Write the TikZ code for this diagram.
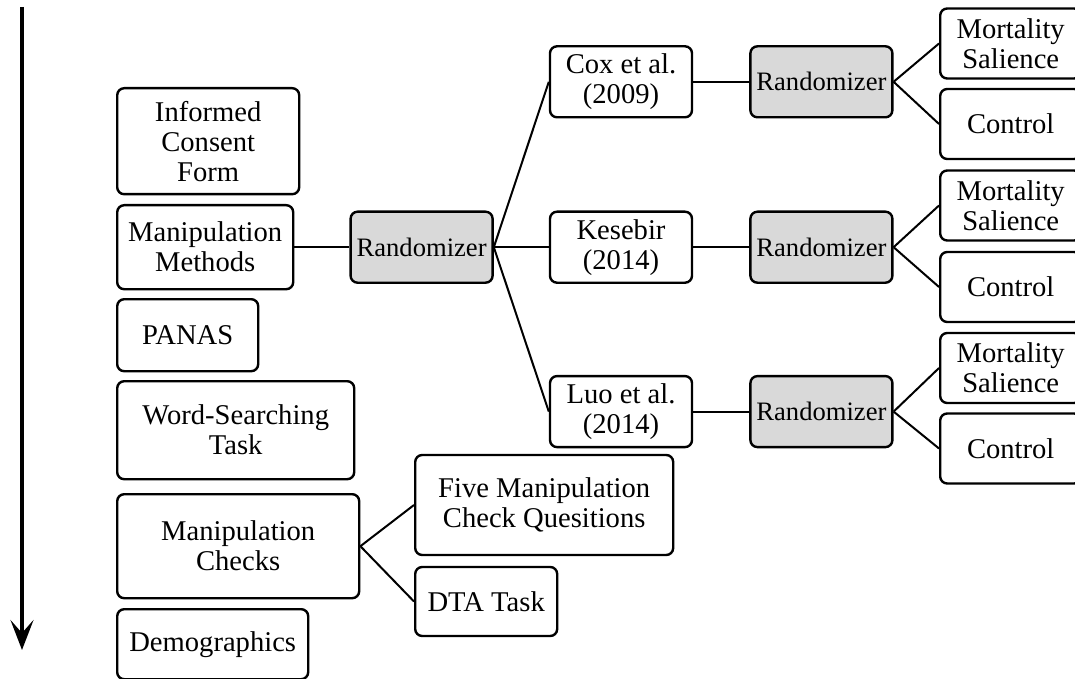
\documentclass[tikz,border=0pt]{standalone}
\usepackage{fontspec}
\setmainfont{Liberation Serif}
\usetikzlibrary{positioning, arrows.meta}
\definecolor{randgray}{RGB}{217, 217, 217}

\begin{document}
\begin{tikzpicture}[
    x=0.5pt, y=-0.5pt,
    stepbox/.style={
        rectangle,
        rounded corners=3.5pt,
        draw=black,
        line width=1.2pt,
        fill=white,
        align=center,
        inner sep=0.5pt,
        font=\fontsize{14.3}{15}\selectfont
    },
    leftbox/.style={stepbox, anchor=north west},
    studybox/.style={stepbox, minimum width=71pt, minimum height=35.5pt},
    randbox/.style={studybox, fill=randgray, font=\fontsize{13.3}{15}\selectfont},
    condbox/.style={stepbox, anchor=west, minimum width=70.5pt, minimum height=35pt},
    link/.style={draw=black, line width=1pt},
    timearrow/.style={draw=black, line width=1.6pt, -{Stealth[length=15pt, width=11.5pt, inset=6.5pt]}}
]
    \useasboundingbox (0,0) rectangle (1075,679);

    % --- Time arrow ---
    \coordinate (tstart) at (22,7);
    \coordinate (tend) at (22,650);
    \draw[timearrow] (tstart) -- (tend);

    % --- Left column: procedure ---
    \node[leftbox, minimum width=91pt, minimum height=53pt] (consent) at (116,87) {Informed\\Consent\\Form};
    \node[leftbox, minimum width=88pt, minimum height=42pt] (methods) at (116,204) {Manipulation\\Methods};
    \node[leftbox, minimum width=70.5pt, minimum height=36pt] (panas) at (116,298) {PANAS};
    \node[leftbox, minimum width=118.5pt, minimum height=49pt] (wordsearch) at (116,380) {Word-Searching\\Task};
    \node[leftbox, minimum width=121pt, minimum height=52pt] (checks) at (116,493) {Manipulation\\Checks};
    \node[leftbox, minimum width=95.5pt, minimum height=35pt] (demo) at (116,608) {Demographics};

    % --- Studies ---
    \node[randbox, right=27.5pt of methods] (mainrand) {Randomizer};
    \node[studybox, right=27.5pt of mainrand] (kesebir) {Kesebir\\(2014)};
    \node[studybox, above=46pt of kesebir] (cox) {Cox et al.\\(2009)};
    \node[studybox, below=45.5pt of kesebir] (luo) {Luo et al.\\(2014)};

    \node[randbox, right=28pt of cox] (randA) {Randomizer};
    \node[randbox, right=28pt of kesebir] (randB) {Randomizer};
    \node[randbox, right=28pt of luo] (randC) {Randomizer};

    % --- Conditions ---
    \node[condbox] (ms1) at (939,43.5) {Mortality\\Salience};
    \node[condbox] (ct1) at (939,124) {Control};
    \node[condbox] (ms2) at (939,205.5) {Mortality\\Salience};
    \node[condbox] (ct2) at (939,287) {Control};
    \node[condbox] (ms3) at (939,368) {Mortality\\Salience};
    \node[condbox] (ct3) at (939,448.5) {Control};

    % --- Checks ---
    \node[stepbox, anchor=west, minimum width=129pt, minimum height=50pt] (five) at (414,505) {Five Manipulation\\Check Quesitions};
    \node[stepbox, anchor=west, minimum width=71pt, minimum height=34.5pt] (dta) at (414,601.5) {DTA Task};

    % Connectors
    \draw[link] (methods) -- (mainrand);
    \draw[link] (mainrand.east) -- (cox.west);
    \draw[link] (mainrand.east) -- (kesebir.west);
    \draw[link] (mainrand.east) -- (luo.west);
    \draw[link] (cox) -- (randA);
    \draw[link] (kesebir) -- (randB);
    \draw[link] (luo) -- (randC);
    \draw[link] (randA.east) -- (ms1.west);
    \draw[link] (randA.east) -- (ct1.west);
    \draw[link] (randB.east) -- (ms2.west);
    \draw[link] (randB.east) -- (ct2.west);
    \draw[link] (randC.east) -- (ms3.west);
    \draw[link] (randC.east) -- (ct3.west);
    \draw[link] (checks.east) -- (five.west);
    \draw[link] (checks.east) -- (dta.west);

\end{tikzpicture}
\end{document}
